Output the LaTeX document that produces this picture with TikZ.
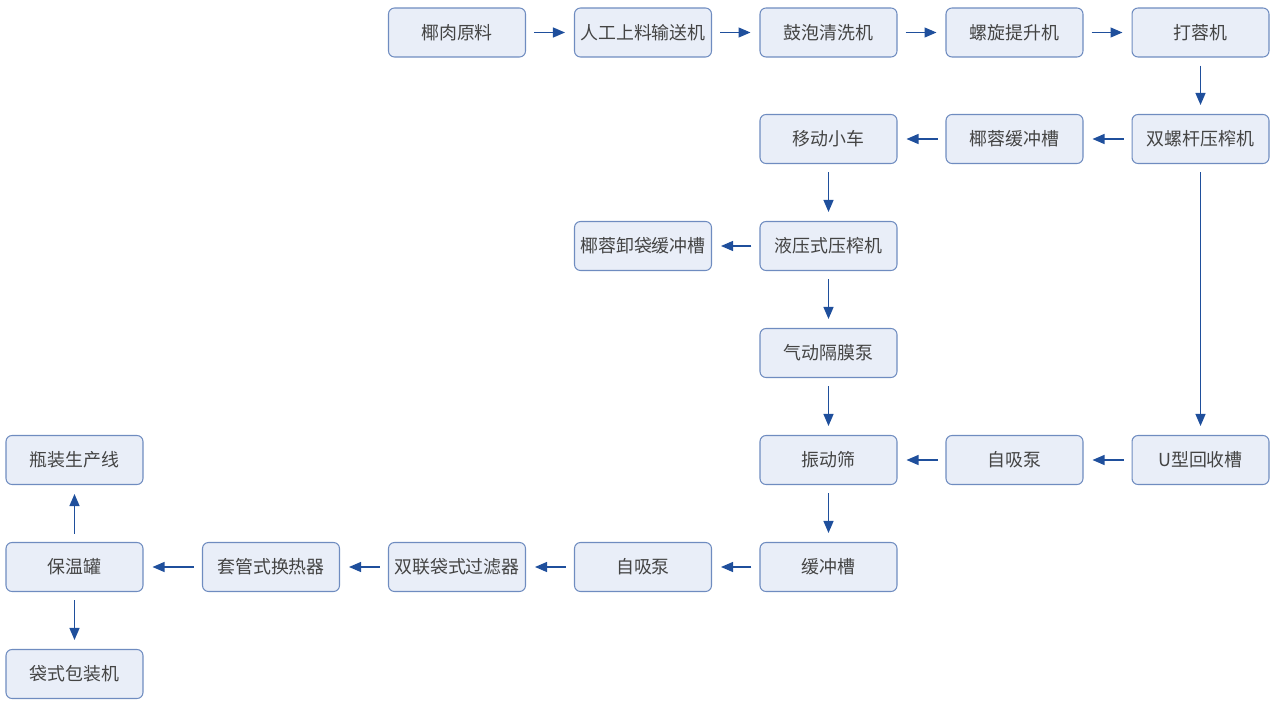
\documentclass[tikz,border=0pt]{standalone}
\usepackage{fontspec}
\setmainfont{Noto Sans CJK SC}
\usetikzlibrary{arrows.meta}
\usepackage{xcolor}
\definecolor{boxfill}{HTML}{E9EEF8}
\definecolor{boxline}{HTML}{6F8CC0}
\definecolor{arrowblue}{HTML}{1F4F9C}
\definecolor{textgray}{HTML}{444444}

\tikzset{
	unit/.style={draw=boxline, fill=boxfill, rounded corners=0.12cm, line width=0.6pt,
		minimum width=2.74cm, minimum height=0.98cm, inner sep=0pt,
		text=textgray, font=\fontsize{10.2}{12}\selectfont},
	flow/.style={draw=arrowblue, line width=0.7pt, -{Triangle[length=0.24cm,width=0.2cm]},
		shorten <=0.16cm, shorten >=0.18cm}
}

\begin{document}
\begin{tikzpicture}[x=0.02cm, y=-0.02cm]
	\useasboundingbox (0,0) rectangle (1274,706);
	% row 1
	\node (raw) [unit] at (457, 32.5) {椰肉原料};
	\node (feed) [unit] at (643, 32.5) {人工上料输送机};
	\node (wash) [unit] at (828.5, 32.5) {鼓泡清洗机};
	\node (lift) [unit] at (1014.5, 32.5) {螺旋提升机};
	\node (grind) [unit] at (1200.5, 32.5) {打蓉机};
	% row 2
	\node (cart) [unit] at (828.5, 139) {移动小车};
	\node (buf1) [unit] at (1014.5, 139) {椰蓉缓冲槽};
	\node (screw) [unit] at (1200.5, 139) {双螺杆压榨机};
	% row 3
	\node (unload) [unit] at (643, 246) {椰蓉卸袋缓冲槽};
	\node (hydr) [unit] at (828.5, 246) {液压式压榨机};
	% row 4
	\node (pump0) [unit] at (828.5, 353) {气动隔膜泵};
	% row 5
	\node (bottle) [unit] at (74.5, 460) {瓶装生产线};
	\node (sieve) [unit] at (828.5, 460) {振动筛};
	\node (pump1) [unit] at (1014.5, 460) {自吸泵};
	\node (ushape) [unit] at (1200.5, 460) {U型回收槽};
	% row 6
	\node (tank) [unit] at (74.5, 567) {保温罐};
	\node (heat) [unit] at (271, 567) {套管式换热器};
	\node (filter) [unit] at (457, 567) {双联袋式过滤器};
	\node (pump2) [unit] at (643, 567) {自吸泵};
	\node (buf2) [unit] at (828.5, 567) {缓冲槽};
	% row 7
	\node (bag) [unit] at (74.5, 674) {袋式包装机};

	\draw[flow] (raw) -- (feed);
	\draw[flow] (feed) -- (wash);
	\draw[flow] (wash) -- (lift);
	\draw[flow] (lift) -- (grind);
	\draw[flow] (grind) -- (screw);
	\draw[flow] (screw) -- (buf1);
	\draw[flow] (buf1) -- (cart);
	\draw[flow] (cart) -- (hydr);
	\draw[flow] (hydr) -- (unload);
	\draw[flow] (hydr) -- (pump0);
	\draw[flow] (pump0) -- (sieve);
	\draw[flow] (screw) -- (ushape);
	\draw[flow] (ushape) -- (pump1);
	\draw[flow] (pump1) -- (sieve);
	\draw[flow] (sieve) -- (buf2);
	\draw[flow] (buf2) -- (pump2);
	\draw[flow] (pump2) -- (filter);
	\draw[flow] (filter) -- (heat);
	\draw[flow] (heat) -- (tank);
	\draw[flow] (tank) -- (bottle);
	\draw[flow] (tank) -- (bag);
\end{tikzpicture}
\end{document}
